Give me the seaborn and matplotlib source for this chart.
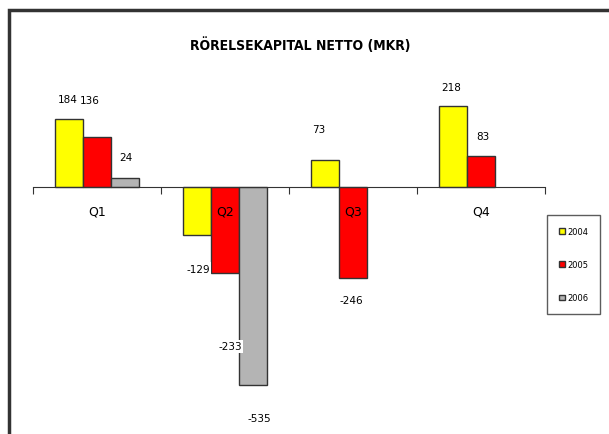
import pandas as pd
import matplotlib.pyplot as plt
import seaborn as sns
from matplotlib.patches import Rectangle

quarters = ["Q1", "Q2", "Q3", "Q4"]
years = ["2004", "2005", "2006"]
v2004 = [184, -129, 73, 218]
v2005 = [136, -233, -246, 83]
v2006 = [24, -535, None, None]

rows = []
for y, vals in zip(years, [v2004, v2005, v2006]):
    for q, v in zip(quarters, vals):
        rows.append({"quarter": q, "year": y, "value": v})
df = pd.DataFrame(rows)

sns.set_style("white")
plt.rcParams['font.family'] = ['DejaVu Sans']
plt.rcParams['text.color'] = 'black'

W, H = 609, 435
fig = plt.figure(figsize=(W / 100, H / 100), dpi=100)
# axes: x from 33 to 545 px, y from 95.5 to 410 px
ax = fig.add_axes([33 / W, 1 - 410 / H, 512 / W, (410 - 95.5) / H])

palette = {"2004": "#ffff00", "2005": "#ff0000", "2006": "#b4b4b4"}
sns.barplot(data=df, x="quarter", y="value", hue="year", order=quarters,
            hue_order=years, palette=palette, width=0.66, gap=0,
            edgecolor="#333333", linewidth=1, saturation=1, ax=ax,
            legend=True, err_kws={"linewidth": 0})

ax.set_xlim(-0.5, 3.5)
ax.set_ylim(-600, 250)
ax.set_xlabel("")
ax.set_ylabel("")
ax.set_yticks([])
for s in ["top", "left", "right"]:
    ax.spines[s].set_visible(False)
ax.spines["bottom"].set_position(("data", 0))
ax.spines["bottom"].set_color("#333333")
ax.set_xticks([-0.5, 0.5, 1.5, 2.5, 3.5])
ax.set_xticklabels([])
ax.tick_params(axis="x", which="major", direction="out", length=5,
               color="#333333", bottom=True)

# category labels on top of the bars
for i, q in enumerate(quarters):
    ax.annotate(q, (i, 0), xytext=(0, -24 * 0.72), textcoords="offset points",
                ha="center", va="center", fontsize=9, color="black", zorder=10)

# value labels, offsets in pixels from bar end (dx, dy)
offsets = {
    ("Q1", "2004"): (-1, 20), ("Q1", "2005"): (-7, 37), ("Q1", "2006"): (1, 21),
    ("Q2", "2004"): (1, -34), ("Q2", "2005"): (5, -73), ("Q2", "2006"): (6, -33),
    ("Q3", "2004"): (-6, 31), ("Q3", "2005"): (-2, -22),
    ("Q4", "2004"): (-2, 19), ("Q4", "2005"): (2, 20),
}
boxed = {("Q2", "2004"), ("Q2", "2005")}
for cont, y in zip(ax.containers, years):
    for bar, q in zip(cont, quarters):
        key = (q, y)
        if key not in offsets:
            continue
        v = df[(df.quarter == q) & (df.year == y)].value.iloc[0]
        dx, dy = offsets[key]
        bbox = dict(facecolor="white", edgecolor="none", pad=1) if key in boxed else None
        ax.annotate(f"{int(v)}", (bar.get_x() + bar.get_width() / 2, v),
                    xytext=(dx * 0.72, dy * 0.72), textcoords="offset points",
                    ha="center", va="center", fontsize=7.5, bbox=bbox, zorder=10)

leg = ax.legend(loc="upper left", bbox_to_anchor=(543 / W, 1 - 212 / H),
                bbox_transform=fig.transFigure, fontsize=6, frameon=True,
                handlelength=0.8, handleheight=0.6, labelspacing=2.9,
                borderpad=1.4, handletextpad=0.2, fancybox=False)
leg.get_frame().set_edgecolor("#333333")
leg.get_frame().set_linewidth(1)

fig.text(300 / W, 1 - 45 / H, "RÖRELSEKAPITAL NETTO (MKR)", ha="center",
         va="center", fontsize=10, fontweight="bold", fontstretch="condensed")

# outer chart frame
fig.patches.append(Rectangle((9 / W, -0.05), 1.1, 1 - 11 / H + 0.05,
                             transform=fig.transFigure, fill=False,
                             edgecolor="#333333", linewidth=2.5))

fig.savefig("out.png", dpi=100)
